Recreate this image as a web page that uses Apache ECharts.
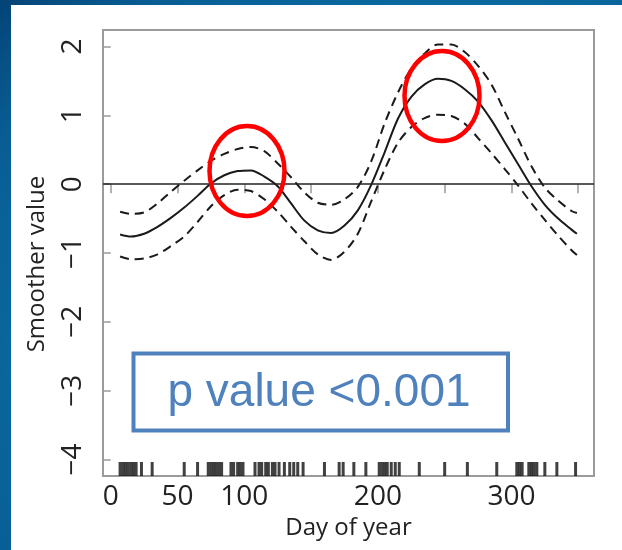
<!DOCTYPE html>
<html>
<head>
<meta charset="utf-8">
<script src="https://cdn.jsdelivr.net/npm/echarts@6/dist/echarts.min.js"></script>
<style>
  html, body { margin: 0; padding: 0; width: 622px; height: 550px; overflow: hidden; }
  body {
    position: relative;
    background: radial-gradient(ellipse 120% 110% at 75% 65%, #0d78b0 0%, #0a68a0 58%, #085d93 72%, #02386a 92%);
  }
  #panel { position: absolute; left: 11px; top: 5px; right: 0; bottom: 0; background: #fff; }
  #chart { position: absolute; left: 0; top: 0; width: 622px; height: 550px; }
</style>
</head>
<body>
<div id="panel"></div>
<div id="chart"></div>
<script>
// Seasonal smoother (GAM-style) with its confidence band
const days   = [7, 15, 25, 35, 45, 55, 65, 75, 85, 95, 105, 115, 125, 135, 145, 155, 165, 175, 185, 195,
                205, 215, 225, 235, 245, 255, 265, 275, 285, 295, 305, 315, 325, 335, 345, 349];
const smooth = [-0.73, -0.76, -0.72, -0.62, -0.49, -0.34, -0.17, 0.01, 0.13, 0.19, 0.20, 0.11, -0.03, -0.28, -0.53, -0.67, -0.71, -0.60, -0.38, -0.01,
                0.46, 0.95, 1.27, 1.45, 1.53, 1.50, 1.38, 1.20, 0.93, 0.61, 0.29, -0.03, -0.30, -0.50, -0.66, -0.72];
const upper  = [-0.40, -0.43, -0.41, -0.28, -0.11, 0.05, 0.20, 0.34, 0.44, 0.51, 0.54, 0.48, 0.30, 0.10, -0.12, -0.27, -0.30, -0.22, -0.04, 0.33,
                0.88, 1.33, 1.68, 1.90, 2.03, 2.03, 1.92, 1.72, 1.45, 1.05, 0.66, 0.26, -0.05, -0.24, -0.39, -0.42];
const lower  = [-1.05, -1.09, -1.08, -1.02, -0.90, -0.76, -0.55, -0.32, -0.16, -0.08, -0.10, -0.22, -0.40, -0.62, -0.83, -1.02, -1.10, -0.98, -0.72, -0.25,
                0.21, 0.60, 0.83, 0.96, 1.01, 0.99, 0.88, 0.67, 0.45, 0.22, -0.02, -0.28, -0.52, -0.75, -0.96, -1.03];

// Observation days shown as a rug along the bottom
const rugDays = [7, 9, 11, 13, 15, 17, 19, 23, 31, 55, 65, 73, 75, 77, 79, 81, 83, 90, 92, 95, 97, 99,
  108, 111, 113, 116, 118, 121, 123, 126, 130, 134, 137, 140, 144, 160, 171, 174, 182, 191,
  201, 203, 205, 207, 210, 213, 216, 231, 250, 267, 289, 304, 306, 308, 313, 315, 317, 319, 325, 334, 348];

// Axis ticks and labels
const xTicks  = [0, 50, 100, 150, 200, 250, 300, 350];
const xLabels = [0, 50, 100, 200, 300];
const yTicks  = [-4, -3, -2, -1, 0, 1, 2];

// Highlighted peaks and the test result
const highlights = [[102, 0.19], [248, 1.28]];
const pText = 'p value <0.001';

const xMin = -5.8, xMax = 361.8;
const yMin = -4.24, yMax = 2.24;

const axisGray = '#9a9a9a';
const inkColor = '#1a1a1a';
const labelFont = 'Open Sans';

const pairs = (xs, ys) => xs.map((x, i) => [x, ys[i]]);
const minus = v => (v < 0 ? '\u2212' + Math.abs(v) : String(v));

const chart = echarts.init(document.getElementById('chart'), null, { renderer: 'canvas' });

chart.setOption({
  animation: false,
  backgroundColor: 'transparent',
  grid: {
    left: 103, top: 30, width: 491, height: 446,
    show: true, borderColor: axisGray, borderWidth: 2, backgroundColor: 'transparent'
  },
  xAxis: {
    type: 'value', min: xMin, max: xMax,
    axisLine: { show: false },
    splitLine: { show: false },
    axisTick: { show: true, customValues: xTicks, length: 9, lineStyle: { color: axisGray, width: 1.5 } },
    axisLabel: { customValues: xLabels, color: '#222', fontSize: 28, fontFamily: labelFont, margin: 7 },
    name: 'Day of year', nameLocation: 'middle', nameGap: 40,
    nameTextStyle: { color: '#222', fontSize: 24, fontFamily: labelFont }
  },
  yAxis: {
    type: 'value', min: yMin, max: yMax,
    axisLine: { show: false },
    splitLine: { show: false },
    axisTick: { show: true, customValues: yTicks, length: 8, lineStyle: { color: axisGray, width: 1.5 } },
    axisLabel: { customValues: yTicks, rotate: 90, color: '#222', fontSize: 28, fontFamily: labelFont, margin: 16, formatter: minus },
    name: 'Smoother value', nameLocation: 'middle', nameGap: 54,
    nameTextStyle: { color: '#222', fontSize: 24, fontFamily: labelFont, padding: [0, 22, 0, 0] }
  },
  series: [
    {
      name: 'smoother', type: 'line', data: pairs(days, smooth),
      smooth: 0.3, showSymbol: false, z: 3,
      lineStyle: { color: inkColor, width: 2 },
      markLine: {
        silent: true, symbol: 'none', label: { show: false },
        lineStyle: { color: '#222', width: 1.5, type: 'solid' },
        data: [{ yAxis: 0 }]
      }
    },
    {
      name: 'upper', type: 'line', data: pairs(days, upper),
      smooth: 0.3, showSymbol: false, z: 3,
      lineStyle: { color: inkColor, width: 2, type: [9, 6] }
    },
    {
      name: 'lower', type: 'line', data: pairs(days, lower),
      smooth: 0.3, showSymbol: false, z: 3,
      lineStyle: { color: inkColor, width: 2, type: [9, 6] }
    },
    {
      name: 'rug', type: 'scatter', clip: false, z: 4,
      data: rugDays.map(d => [d, yMin]),
      symbol: 'rect', symbolSize: [3, 14], symbolOffset: [0, -7],
      itemStyle: { color: '#111' }
    }
  ]
});

// Red rings around the two peaks, placed through the grid's coordinate system
const rings = highlights.map(p => {
  const [cx, cy] = chart.convertToPixel({ gridIndex: 0 }, p);
  return {
    type: 'ellipse', z: 10,
    shape: { cx, cy, rx: 37.5, ry: 45 },
    style: { fill: 'none', stroke: '#ff0000', lineWidth: 4.5 }
  };
});

chart.setOption({
  graphic: [
    ...rings,
    {
      type: 'rect', z: 10,
      shape: { x: 133.5, y: 353.5, width: 374.5, height: 77 },
      style: { fill: '#ffffff', stroke: '#4f81bd', lineWidth: 4 }
    },
    {
      type: 'text', z: 11,
      style: {
        text: pText, x: 319, y: 393,
        fill: '#4f81bd', font: '46px "Liberation Sans", Arial, sans-serif',
        textAlign: 'center', textVerticalAlign: 'middle',
        align: 'center', verticalAlign: 'middle'
      }
    }
  ]
});
</script>
</body>
</html>
